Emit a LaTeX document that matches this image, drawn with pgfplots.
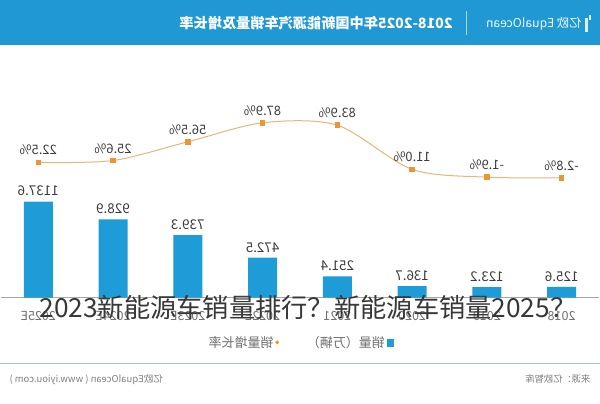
\documentclass[border=0pt]{standalone}
\usepackage{pgfplots}
\pgfplotsset{compat=1.18}
\usepackage{graphicx}
\usepackage{fontspec}
\setmainfont{Noto Sans CJK SC}
\definecolor{headblue}{RGB}{32,152,212}
\definecolor{barblue}{RGB}{30,156,216}
\definecolor{lineorange}{RGB}{228,184,120}
\definecolor{markorange}{RGB}{234,150,52}
\definecolor{labelgray}{RGB}{60,60,60}
\definecolor{tickgray}{RGB}{110,110,110}
\definecolor{footline}{RGB}{165,195,210}
\begin{document}
\begin{tikzpicture}
\fill[white] (0,0) rectangle (600bp,404bp);
% header band
\fill[headblue] (0,359bp) rectangle (600bp,404bp);
\node[white, font=\bfseries\fontsize{14.2bp}{17bp}\selectfont, anchor=east, inner sep=0pt] at (453bp,381bp) {\reflectbox{2018-2025年中国新能源汽车销量及增长率}};
\draw[white!60!headblue, line width=0.7bp] (467bp,369bp) -- (467bp,393bp);
\node[white!92!headblue, font=\fontsize{12.2bp}{14bp}\selectfont, anchor=east, inner sep=0pt] at (582bp,380bp) {\reflectbox{亿欧 EqualOcean}};
\fill[white!85!headblue] (585bp,372bp) rectangle (588bp,386bp);
\fill[white!85!headblue] (589bp,384bp) rectangle (591bp,389bp);

% bars
\begin{axis}[
  at={(0.5bp,106bp)}, anchor=south west,
  width=599bp, height=198bp, scale only axis,
  xmin=-0.5, xmax=7.5, x dir=reverse,
  ymin=0, ymax=2346,
  axis x line*=bottom, axis y line=none,
  axis line style={draw=gray!70, line width=0.6bp},
  x axis line style={-},
  xtick={0,...,7},
  xticklabels={\reflectbox{2018},\reflectbox{2019},\reflectbox{2020},\reflectbox{2021},\reflectbox{2022E},\reflectbox{2023E},\reflectbox{2024E},\reflectbox{2025E}},
  xticklabel style={font=\fontsize{12.5bp}{14bp}\selectfont, text=tickgray, yshift=-10bp},
  major tick length=0pt,
  clip=false,
  legend plot pos=right,
  legend columns=2,
  legend style={at={(0.5,-0.227)}, anchor=center, draw=none, fill=none,
    font=\fontsize{13bp}{15bp}\selectfont, text=tickgray,
    /tikz/every even column/.append style={column sep=26bp}},
]
\addlegendimage{only marks, mark=*, mark size=1.7bp, color=markorange}
\addlegendentry{\reflectbox{销量增长率}}
\addplot[ybar, bar width=29bp, fill=barblue, draw=none, forget plot,
  point meta=explicit symbolic,
  nodes near coords={\reflectbox{\pgfplotspointmeta}},
  every node near coord/.append style={font=\fontsize{13.5bp}{15bp}\selectfont, text=labelgray, yshift=2bp}]
coordinates {
  (0,125.6) [125.6]
  (1,123.2) [123.2]
  (2,136.7) [136.7]
  (3,251.4) [251.4]
  (4,472.5) [472.5]
  (5,739.3) [739.3]
  (6,928.9) [928.9]
  (7,1137.6) [1137.6]
};
\addlegendimage{only marks, mark=square*, mark size=3.3bp, color=barblue}
\addlegendentry{\reflectbox{销量（万辆）}}
\end{axis}

% growth line
\begin{axis}[
  at={(0.5bp,106bp)}, anchor=south west,
  width=599bp, height=198bp, scale only axis,
  xmin=-0.5, xmax=7.5, x dir=reverse,
  ymin=-200.7, ymax=125.8,
  hide axis, clip=false,
]
\addplot[smooth, color=lineorange, line width=1bp,
  mark=square*, mark size=2.3bp, mark options={fill=markorange, draw=markorange},
  point meta=explicit symbolic,
  nodes near coords={\reflectbox{\pgfplotspointmeta\%}},
  every node near coord/.append style={font=\fontsize{13bp}{15bp}\selectfont, text=labelgray, yshift=3.5bp}]
coordinates {
  (0,-2.8) [-2.8]
  (1,-1.9) [-1.9]
  (2,11.0) [11.0]
  (3,83.9) [83.9]
  (4,87.9) [87.9]
  (5,56.5) [56.5]
  (6,25.6) [25.6]
  (7,22.5) [22.5]
};
\end{axis}

% footer
\draw[footline, line width=0.9bp] (0,40bp) -- (600bp,40bp);
\node[font=\fontsize{9.5bp}{11bp}\selectfont, text=gray, anchor=west, inner sep=0pt] at (9bp,24bp) {\reflectbox{亿欧EqualOcean ( www.iyiou.com )}};
\node[font=\fontsize{9.3bp}{11bp}\selectfont, text=gray, anchor=east, inner sep=0pt] at (591bp,24bp) {\reflectbox{来源：亿欧智库}};

% overlay text
\node[font=\fontsize{26.3bp}{31bp}\selectfont, text=black!78, anchor=base, inner sep=0pt] at (308bp,86bp) {2023新能源车销量排行？新能源车销量2025？};
\end{tikzpicture}
\end{document}
